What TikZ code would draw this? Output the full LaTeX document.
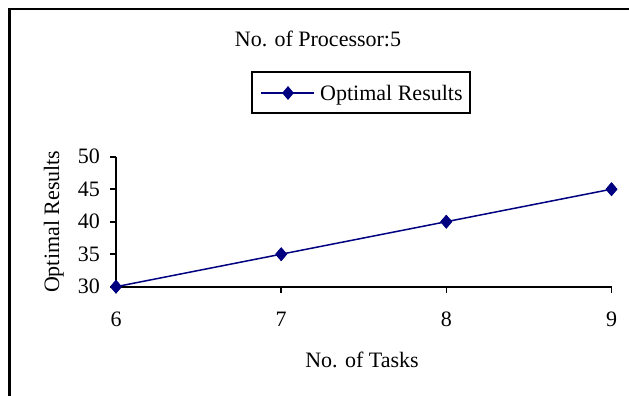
\documentclass[tikz,border=0pt]{standalone}
\usepackage{fontspec}
\setmainfont{Liberation Serif}
\usetikzlibrary{shapes.geometric}
\definecolor{navyc}{HTML}{000080}
\begin{document}
\begin{tikzpicture}[x=1pt,y=-1pt,
  txt/.style={font=\fontsize{22}{24}\selectfont, inner sep=0pt, text=black},
  axisline/.style={line width=2pt, black},
  tickline/.style={line width=1.6pt, black},
  series/.style={line width=1.5pt, navyc},
  marker/.style={diamond, fill=navyc, draw=none, inner sep=0pt, minimum width=12pt, minimum height=14pt, aspect=0.857},
  framebox/.style={line width=2.2pt, black}]
\useasboundingbox (0,0) rectangle (629,396);
% outer frame (left and top only)
\coordinate (fbl) at (9.5,396);
\coordinate (ftl) at (9.5,9.3);
\coordinate (ftr) at (629,9.3);
\draw[framebox] (fbl) -- (ftl) -- (ftr);
% title
\node[txt, anchor=base] (title) at (318,47) {No. of Processor:5};
% legend
\node[draw=black, line width=1.5pt, minimum width=218pt, minimum height=41pt, inner sep=0pt] (legend) at (361,92.5) {};
\coordinate (l1) at (261,93);
\coordinate (l2) at (314,93);
\draw[series] (l1) -- (l2);
\node[marker] (lm) at (288,93) {};
\node[txt, anchor=base west] (legtext) at (320,100.5) {Optimal Results};
% axes
\coordinate (o) at (116,286.7);
\coordinate (ytop) at (116,156.7);
\coordinate (xend) at (611.5,286.7);
\draw[axisline] (ytop) -- (o) -- (xend);
% y ticks and labels
\foreach \v [count=\i from 0] in {30,35,40,45,50}{
  \coordinate (yt\v) at (116,286.7-32.5*\i);
  \coordinate (ytl\v) at (110,286.7-32.5*\i);
  \draw[tickline] (ytl\v) -- (yt\v);
  \node[txt, anchor=east] (yl\v) at (100,286.7-32.5*\i) {\v};
}
% x ticks and labels
\foreach \v [count=\i from 0] in {6,7,8,9}{
  \coordinate (xt\v) at (116+165.17*\i,286.7);
  \coordinate (xtb\v) at (116+165.17*\i,293);
  \draw[tickline] (xt\v) -- (xtb\v);
  \node[txt, anchor=base] (xl\v) at (116+165.17*\i,326) {\v};
}
% axis titles
\node[txt, anchor=base] (xtitle) at (362,367) {No. of Tasks};
\node[txt, anchor=base, rotate=90] (ytitle) at (59,221.7) {Optimal Results};
% data
\node[marker] (p6) at (116,286.7) {};
\node[marker] (p7) at (281.2,254.2) {};
\node[marker] (p8) at (446.3,221.7) {};
\node[marker] (p9) at (611.5,189.2) {};
\draw[series] (p6.center) -- (p7.center) -- (p8.center) -- (p9.center);
\node[marker] at (p6) {};
\node[marker] at (p7) {};
\node[marker] at (p8) {};
\node[marker] at (p9) {};
\end{tikzpicture}
\end{document}
